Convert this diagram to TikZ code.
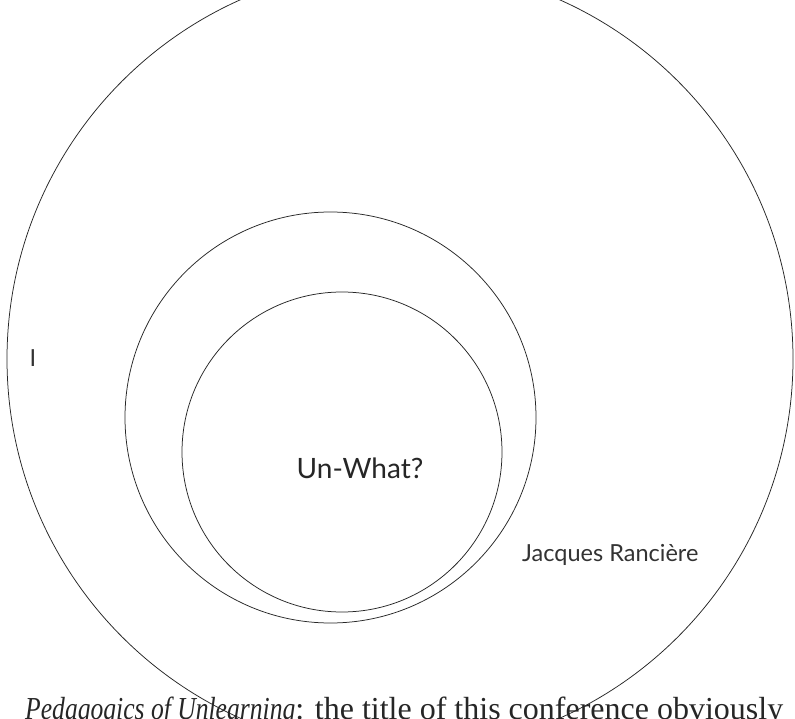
\documentclass[tikz,border=0pt]{standalone}
\usepackage{fontspec}
\setmainfont{Liberation Serif}[ItalicFeatures={FakeStretch=0.8}]
\newfontfamily\gillfont{Lato}
\usepackage{tikz}
\tikzset{
    ring/.style={draw, line width=0.75pt, black!85},
    label_sans/.style={font=\gillfont\fontsize{23.5}{27}\selectfont, text=black!80, inner sep=0pt},
    label_big/.style={font=\gillfont\fontsize{28}{32}\selectfont, text=black!85, inner sep=0pt},
    body_text/.style={font=\fontsize{32}{38}\selectfont, text=black!85, inner sep=0pt, anchor=base west}
}
\begin{document}
\begin{tikzpicture}[x=1pt, y=-1pt]
            % Page frame
            \useasboundingbox (0, 0) rectangle (795, 719);
            \clip (0, 0) rectangle (795, 719);
            \fill[white] (0, 0) rectangle (795, 719);

            % Nested circles
            \draw[ring] (400, 359) circle (393);
            \draw[ring] (330.5, 417.5) circle (205.5);
            \draw[ring] (342, 452) circle (160);

            % Labels
            \node (self) [label_sans] at (33, 358) {I};
            \node (unwhat) [label_big] at (360, 468) {Un-What?};
            \node (ranciere) [label_sans, anchor=west] at (522, 555) {Jacques Rancière};

            % Running text
            \node (opening) [body_text] at (25, 719.5) {\textit{Pedagogics of Unlearning}: the title of this conference obviously};
\end{tikzpicture}
\end{document}
